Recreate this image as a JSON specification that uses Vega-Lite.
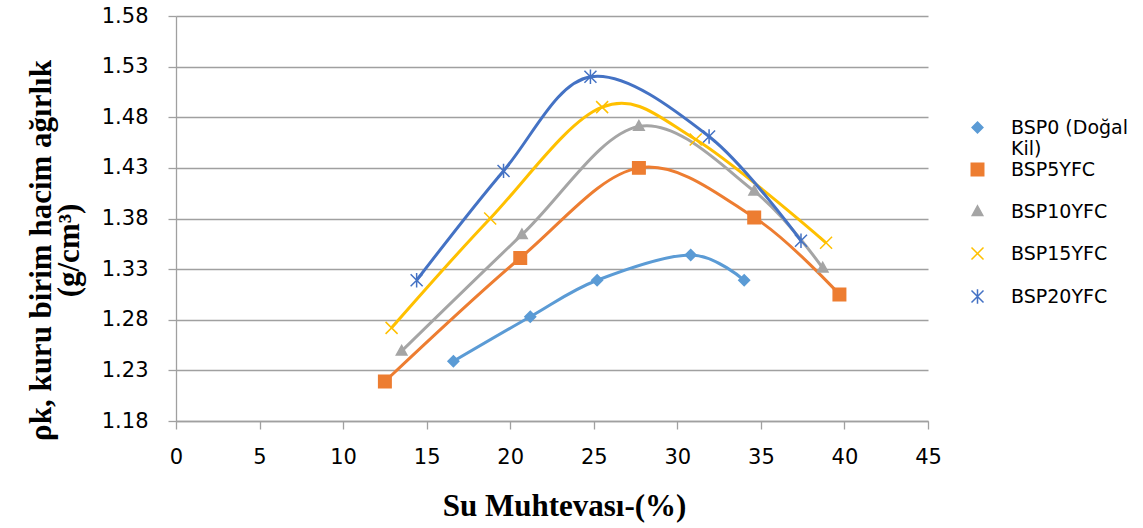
{
  "$schema": "https://vega.github.io/schema/vega-lite/v6.json",
  "width": 752,
  "height": 405,
  "autosize": {"type": "none"},
  "padding": {"left": 176, "top": 16, "right": 215, "bottom": 107},
  "background": "white",
  "config": {"view": {"stroke": null}},
  "data": {
    "values": [
      {"series": "BSP0 (Doğal Kil)", "w": 16.6, "rho": 1.239},
      {"series": "BSP0 (Doğal Kil)", "w": 21.2, "rho": 1.283},
      {"series": "BSP0 (Doğal Kil)", "w": 25.2, "rho": 1.319},
      {"series": "BSP0 (Doğal Kil)", "w": 30.8, "rho": 1.344},
      {"series": "BSP0 (Doğal Kil)", "w": 34.0, "rho": 1.319},
      {"series": "BSP5YFC", "w": 12.5, "rho": 1.219},
      {"series": "BSP5YFC", "w": 20.6, "rho": 1.341},
      {"series": "BSP5YFC", "w": 27.7, "rho": 1.430},
      {"series": "BSP5YFC", "w": 34.6, "rho": 1.381},
      {"series": "BSP5YFC", "w": 39.7, "rho": 1.305},
      {"series": "BSP10YFC", "w": 13.5, "rho": 1.249},
      {"series": "BSP10YFC", "w": 20.7, "rho": 1.364},
      {"series": "BSP10YFC", "w": 27.7, "rho": 1.471},
      {"series": "BSP10YFC", "w": 34.6, "rho": 1.407},
      {"series": "BSP10YFC", "w": 38.7, "rho": 1.331},
      {"series": "BSP15YFC", "w": 12.9, "rho": 1.272},
      {"series": "BSP15YFC", "w": 18.8, "rho": 1.380},
      {"series": "BSP15YFC", "w": 25.5, "rho": 1.490},
      {"series": "BSP15YFC", "w": 31.1, "rho": 1.458},
      {"series": "BSP15YFC", "w": 38.9, "rho": 1.356},
      {"series": "BSP20YFC", "w": 14.4, "rho": 1.319},
      {"series": "BSP20YFC", "w": 19.6, "rho": 1.427},
      {"series": "BSP20YFC", "w": 24.8, "rho": 1.520},
      {"series": "BSP20YFC", "w": 31.9, "rho": 1.461},
      {"series": "BSP20YFC", "w": 37.4, "rho": 1.358}
    ]
  },
  "encoding": {
    "x": {
      "field": "w", "type": "quantitative",
      "scale": {"domain": [0, 45], "nice": false, "zero": false},
      "axis": {
        "values": [0, 5, 10, 15, 20, 25, 30, 35, 40, 45],
        "grid": false,
        "domainColor": "#A0A0A0", "domainWidth": 1.3,
        "tickColor": "#A0A0A0", "tickWidth": 1.3, "tickSize": 8,
        "labelFont": "DejaVu Sans", "labelFontSize": 21, "labelColor": "#000000",
        "labelPadding": 17, "labelFlush": false, "labelOverlap": false,
        "title": "Su Muhtevası-(%)",
        "titleFont": "Liberation Serif", "titleFontSize": 31, "titleFontWeight": "bold", "titleColor": "#000000",
        "titleX": 388, "titleY": 94, "titleBaseline": "alphabetic", "titleAlign": "center"
      }
    },
    "y": {
      "field": "rho", "type": "quantitative",
      "scale": {"domain": [1.18, 1.58], "nice": false, "zero": false},
      "axis": {
        "values": [1.18, 1.23, 1.28, 1.33, 1.38, 1.43, 1.48, 1.53, 1.58],
        "format": ".2f",
        "grid": true, "gridColor": "#A0A0A0", "gridWidth": 1.3,
        "domainColor": "#A0A0A0", "domainWidth": 1.3,
        "tickColor": "#A0A0A0", "tickWidth": 1.3, "tickSize": 8,
        "labelFont": "DejaVu Sans", "labelFontSize": 21, "labelColor": "#000000",
        "labelPadding": 20, "labelFlush": false, "labelOverlap": false,
        "title": ["ρk, kuru birim hacim ağırlık", "(g/cm³)"],
        "titleFont": "Liberation Serif", "titleFontSize": 31, "titleFontWeight": "bold", "titleColor": "#000000",
        "titleAngle": 270, "titleX": -126, "titleY": 234, "titleBaseline": "alphabetic", "titleAlign": "center",
        "titleLineHeight": 28
      }
    },
    "color": {
      "field": "series", "type": "nominal",
      "scale": {
        "domain": ["BSP0 (Doğal Kil)", "BSP5YFC", "BSP10YFC", "BSP15YFC", "BSP20YFC"],
        "range": ["#5B9BD5", "#ED7D31", "#A5A5A5", "#FFC000", "#4472C4"]
      },
      "legend": {
        "title": null,
        "orient": "none",
        "legendX": 792,
        "legendY": 102,
        "padding": 0,
        "symbolSize": 144,
        "symbolOpacity": 1,
        "labelFont": "DejaVu Sans", "labelFontSize": 19, "labelColor": "#000000",
        "labelOffset": 24, "labelLimit": 300,
        "rowPadding": 1,
        "labelExpr": "datum.label == 'BSP0 (Doğal Kil)' ? ['BSP0 (Doğal', 'Kil)'] : [datum.label, ' ']"
      }
    }
  },
  "layer": [
    {
      "mark": {"type": "line", "interpolate": "cardinal", "strokeWidth": 3}
    },
    {
      "mark": {"type": "point", "filled": true, "opacity": 1, "size": 144, "strokeWidth": 1.5},
      "encoding": {
        "shape": {
          "field": "series", "type": "nominal",
          "scale": {
            "domain": ["BSP0 (Doğal Kil)", "BSP5YFC", "BSP10YFC", "BSP15YFC", "BSP20YFC"],
            "range": [
              "M0,-0.9L0.9,0L0,0.9L-0.9,0Z",
              "M-1.04,-1.04L1.04,-1.04L1.04,1.04L-1.04,1.04Z",
              "M0,-0.95L0.88,0.65L-0.88,0.65Z",
              "M-1,-1L1,1M-1,1L1,-1",
              "M-1,-1L1,1M-1,1L1,-1M0,-1.2L0,1.2"
            ]
          },
          "legend": null
        },
        "stroke": {
          "field": "series", "type": "nominal",
          "scale": {
            "domain": ["BSP0 (Doğal Kil)", "BSP5YFC", "BSP10YFC", "BSP15YFC", "BSP20YFC"],
            "range": ["#5B9BD5", "#ED7D31", "#A5A5A5", "#FFC000", "#4472C4"]
          },
          "legend": null
        }
      }
    }
  ]
}
